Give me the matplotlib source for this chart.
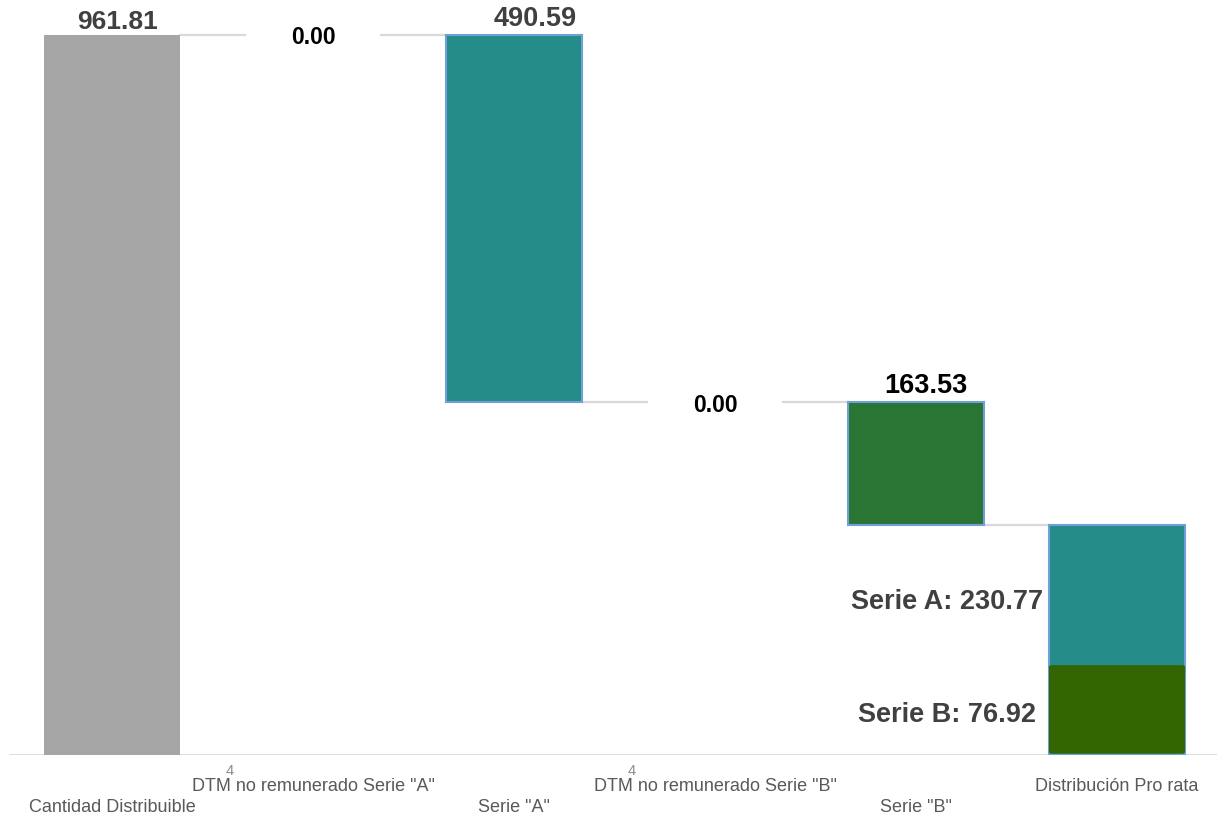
import numpy as np
import matplotlib.pyplot as plt
from matplotlib.patches import FancyBboxPatch

plt.rcParams['font.family'] = ['Liberation Sans', 'DejaVu Sans']

# data
categories = ['Cantidad Distribuible', 'DTM no remunerado Serie "A"', 'Serie "A"',
              'DTM no remunerado Serie "B"', 'Serie "B"', 'Distribución Pro rata']
start_value = 961.81
changes = [0.00, 490.59, 0.00, 163.53]
prorata_a = 230.77
prorata_b = 76.92
prorata_b_shown = 120.0   # height of the dark green block as drawn in the picture
footnote = '4'

grey = '#a6a6a6'
teal = '#268c89'
green = '#2a7533'
dark_green = '#336600'
edge_blue = '#6fa0d8'
line_grey = '#d9d9d9'
txt_dark = '#404040'

fig = plt.figure(figsize=(12.17, 8.17), dpi=100)
ax = fig.add_axes([0, 62 / 817, 1, 755 / 817])

w = 0.677
x = np.arange(len(categories))

# running totals
levels = [start_value]
for c in changes:
    levels.append(levels[-1] - c)
total = prorata_a + prorata_b

# bars
ax.bar(x[0], start_value, width=w, color=grey, zorder=2)
bar_cols = [None, teal, None, green]
for i, c in enumerate(changes):
    top = levels[i]
    bot = levels[i + 1]
    if c == 0:
        continue
    ax.bar(x[i + 1], top - bot, bottom=bot, width=w, color=bar_cols[i],
           edgecolor=edge_blue, linewidth=1.5, zorder=2)

ax.bar(x[5], total, width=w, color=teal, edgecolor=edge_blue, linewidth=1.5, zorder=2)
ax.add_patch(FancyBboxPatch((x[5] - w / 2, 2), w, prorata_b_shown - 2,
                            boxstyle='round,pad=0,rounding_size=0.02',
                            mutation_aspect=80, facecolor=dark_green,
                            edgecolor='none', zorder=3))

# connectors between bar edges
for i in range(5):
    ax.plot([x[i] + w / 2, x[i + 1] - w / 2], [levels[i]] * 2,
            color=line_grey, lw=1.6, zorder=1)

# value labels
ax.annotate(f'{start_value:.2f}', (x[0], start_value), xytext=(4, 1),
            textcoords='offset points', ha='center', va='bottom',
            fontsize=19, fontweight='bold', color=txt_dark)
lab_dx = [0, 15, 0, 7]
lab_col = ['black', txt_dark, 'black', 'black']
for i, c in enumerate(changes):
    if c == 0:
        ax.annotate(f'{c:.2f}', (x[i + 1], levels[i]), xytext=(0, -2),
                    textcoords='offset points', ha='center', va='center',
                    fontsize=16.5, fontweight='bold', color='black', zorder=4)
    else:
        ax.annotate(f'{c:.2f}', (x[i + 1], levels[i]), xytext=(lab_dx[i], 2),
                    textcoords='offset points', ha='center', va='bottom',
                    fontsize=19.5, fontweight='bold', color=lab_col[i])

ax.text(x[5] - 0.846, prorata_b_shown + (total - prorata_b_shown) / 2 - 10,
        f'Serie A: {prorata_a:.2f}', ha='center', va='center',
        fontsize=19.5, fontweight='bold', color=txt_dark)
ax.text(x[5] - 0.846, prorata_b_shown / 2 - 6, f'Serie B: {prorata_b:.2f}',
        ha='center', va='center', fontsize=19.5, fontweight='bold', color=txt_dark)

# baseline
ax.axhline(0, xmin=10 / 1217, color=line_grey, lw=2, zorder=1)

ax.set_xlim(-112 / 201, (1217 - 112) / 201)
ax.set_ylim(0, 755 / (720 / start_value))
ax.set_xticks([])
ax.set_yticks([])
for s in ax.spines.values():
    s.set_visible(False)

# staggered category labels
for i, cat in enumerate(categories):
    dy = -32 if i % 2 == 0 else -16.5
    ax.annotate(cat, (x[i], 0), xytext=(0, dy), textcoords='offset points',
                ha='center', va='top', fontsize=13, color='#595959',
                annotation_clip=False)
    if cat.startswith('DTM'):
        ax.annotate(footnote, (x[i], 0), xytext=(-60, -6.5), textcoords='offset points',
                    ha='center', va='top', fontsize=10.5, color='#8c8c8c',
                    annotation_clip=False)

fig.savefig('out.png', dpi=100)
